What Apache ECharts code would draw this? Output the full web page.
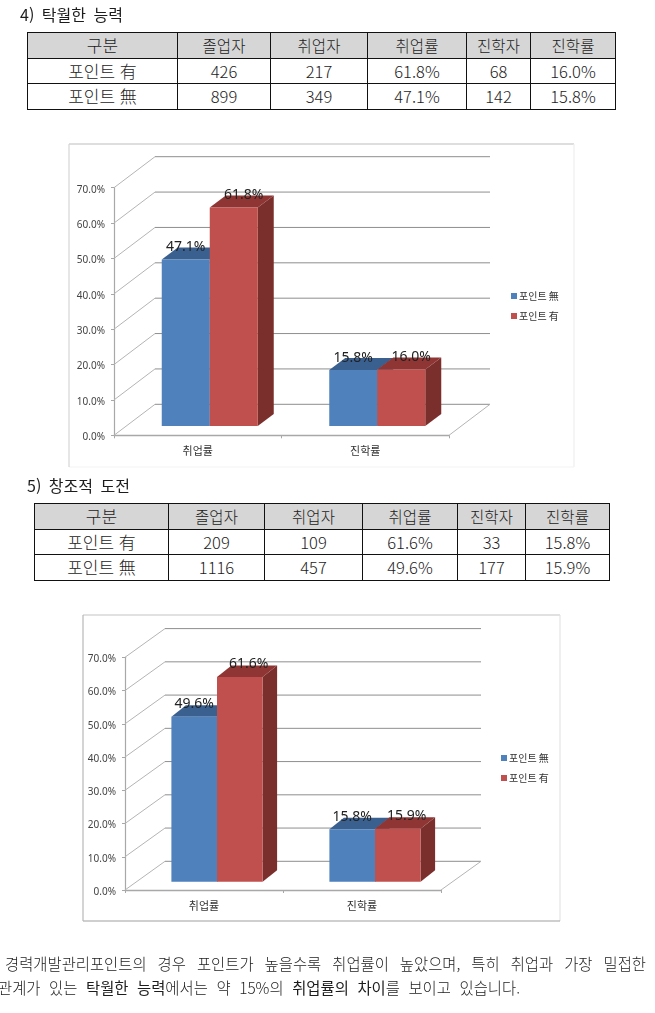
<!DOCTYPE html>
<html lang="ko">
<head>
<meta charset="utf-8">
<script src="https://cdn.jsdelivr.net/npm/echarts@6/dist/echarts.min.js"></script>
<style>
html,body{margin:0;padding:0;background:#fff;width:655px;height:1013px;overflow:hidden}
body{font-family:"Noto Sans CJK KR","Noto Sans",sans-serif;color:#1c1c1c}
#chart{position:absolute;left:0;top:0;width:655px;height:1013px}
.h{position:absolute;font-size:16px;line-height:18px;white-space:pre;font-weight:400;word-spacing:3px}
table{position:absolute;border-collapse:collapse;table-layout:fixed;font-size:16.5px;font-weight:300;background:#fff}
td{border:1px solid #111;text-align:center;padding:0;height:24.5px;line-height:20px;overflow:hidden}
td:first-child{font-size:17px}
tr:first-child td{background:#d6d6d6;font-size:15.5px}
tr:first-child td:first-child{font-size:17px}
.p{position:absolute;font-size:15.4px;line-height:20px;white-space:nowrap;font-weight:300}
.j{text-align:justify;text-align-last:justify;white-space:normal}
.p b{font-weight:400}
</style>
</head>
<body>
<div id="chart"></div>
<div class="h" style="left:20px;top:5px">4) 탁월한 능력</div>
<table id="t1" style="left:27px;top:32px;width:588px"></table>
<div class="h" style="left:27px;top:476px">5) 창조적 도전</div>
<table id="t2" style="left:34px;top:503px;width:575px"></table>
<div class="p j" style="left:5px;top:953px;width:641px">경력개발관리포인트의 경우 포인트가 높을수록 취업률이 높았으며, 특히 취업과 가장 밀접한</div>
<div class="p j" style="left:-2px;top:977px;width:522px">관계가 있는 <b>탁월한 능력</b>에서는 약 15%의 <b>취업률의 차이</b>를 보이고 있습니다.</div>
<script>
// ---- data ----
const categories = ['취업률', '진학률'];
const seriesNames = ['포인트 無', '포인트 有'];
const yTicks = [0, 10, 20, 30, 40, 50, 60, 70];

const chart1NoPoint = [47.1, 15.8];
const chart1Point = [61.8, 16.0];
const chart2NoPoint = [49.6, 15.8];
const chart2Point = [61.6, 15.9];

const tableHeader = ['구분', '졸업자', '취업자', '취업률', '진학자', '진학률'];
const table1Row1 = ['포인트 有', '426', '217', '61.8%', '68', '16.0%'];
const table1Row2 = ['포인트 無', '899', '349', '47.1%', '142', '15.8%'];
const table2Row1 = ['포인트 有', '209', '109', '61.6%', '33', '15.8%'];
const table2Row2 = ['포인트 無', '1116', '457', '49.6%', '177', '15.9%'];

// ---- tables ----
function buildTable(id, widths, rows) {
  const t = document.getElementById(id);
  t.innerHTML = '<colgroup>' + widths.map(w => '<col style="width:' + w + 'px">').join('') + '</colgroup>' +
    rows.map(r => '<tr>' + r.map(c => '<td>' + c + '</td>').join('') + '</tr>').join('');
}
buildTable('t1', [150, 93, 97, 99, 64, 85], [tableHeader, table1Row1, table1Row2]);
buildTable('t2', [134, 96, 98, 95, 68, 84], [tableHeader, table2Row1, table2Row2]);

// ---- chart layout ----
const layouts = [
  { left: 114, top: 187.7, width: 335, height: 247.6, wallDx: 41, wallDy: -31,
    lift: 9.3, shift: 12, barW: 48, depthX: 16, depthY: -12,
    labelDx: [0, 10], labelDy: -12.5, legendLeft: 506, legendTop: 286,
    frame: [69, 144, 505, 323], edges: ['#bdbdbd', '#efefef', '#f4f4f4', '#d6d6d6'] },
  { left: 125, top: 657.3, width: 316, height: 232.7, wallDx: 40, wallDy: -28.7,
    lift: 8.3, shift: 13, barW: 45.6, depthX: 14.5, depthY: -11.5,
    labelDx: [0, 9], labelDy: -12.5, legendLeft: 496, legendTop: 748,
    frame: [83, 615, 477, 306], edges: ['#c4c4c4', '#e4e4e4', '#a0a0a0', '#b8b8b8'] }
];
const seriesData = [[chart1NoPoint, chart1Point], [chart2NoPoint, chart2Point]];
const fills = [
  { front: '#4f81bd', top: '#3a6090', side: '#34577f' },
  { front: '#c0504d', top: '#8f3634', side: '#7b2f2d' }
];

function wallSeries(idx) {
  const L = layouts[idx];
  return {
    type: 'custom', xAxisIndex: idx, yAxisIndex: idx, silent: true, clip: false, z: 1,
    encode: { x: 0, y: 1 },
    data: yTicks.map(v => [0, v]),
    renderItem(params, api) {
      const y = api.coord([0, api.value(1)])[1];
      const x0 = L.left, x1 = L.left + L.width;
      const bx = x0 + L.wallDx, by = y + L.wallDy, ex = x1 + L.wallDx;
      const children = [
        { type: 'line', shape: { x1: x0, y1: y, x2: bx, y2: by }, style: { stroke: '#b4b4b4', lineWidth: 1 } },
        { type: 'line', shape: { x1: bx, y1: by, x2: ex, y2: by }, style: { stroke: '#8e8e8e', lineWidth: 1 } }
      ];
      if (api.value(1) === 0) {
        children.push({ type: 'line', shape: { x1: x1, y1: y, x2: ex, y2: by }, style: { stroke: '#b4b4b4', lineWidth: 1 } });
      }
      return { type: 'group', children };
    }
  };
}

function barSeries(idx, s) {
  const L = layouts[idx], c = fills[s];
  return {
    type: 'custom', name: seriesNames[s], xAxisIndex: idx, yAxisIndex: idx, clip: false, z: 2 + s,
    itemStyle: { color: c.front },
    encode: { x: 0, y: 1 },
    data: seriesData[idx][s].map((v, i) => [i, v]),
    renderItem(params, api) {
      const cat = api.value(0), val = api.value(1);
      const top = api.coord([cat, val]), base = api.coord([cat, 0]);
      const x0 = top[0] + L.shift + (s === 0 ? -L.barW : 0), x1 = x0 + L.barW;
      const yT = top[1] - L.lift, yB = base[1] - L.lift;
      const dx = L.depthX, dy = L.depthY;
      return {
        type: 'group',
        children: [
          { type: 'polygon', shape: { points: [[x1, yT], [x1 + dx, yT + dy], [x1 + dx, yB + dy], [x1, yB]] }, style: { fill: c.side } },
          { type: 'polygon', shape: { points: [[x0, yT], [x0 + dx, yT + dy], [x1 + dx, yT + dy], [x1, yT]] }, style: { fill: c.top } },
          { type: 'rect', shape: { x: x0, y: yT, width: L.barW, height: yB - yT }, style: { fill: c.front } },
          { type: 'text', z2: 50, style: {
              x: (x0 + x1) / 2 + L.labelDx[s], y: yT + L.labelDy,
              text: val.toFixed(1) + '%', textAlign: 'center', textVerticalAlign: 'middle',
              fill: '#222', font: '14px "Noto Sans"' } }
        ]
      };
    }
  };
}

function frameLines(L) {
  const [x, y, w, h] = L.frame;
  const segs = [[x, y, x + w, y], [x + w, y, x + w, y + h], [x, y + h, x + w, y + h], [x, y, x, y + h]];
  return segs.map((s, i) => ({
    type: 'line', silent: true, z: -10,
    shape: { x1: s[0], y1: s[1], x2: s[2], y2: s[3] },
    style: { stroke: L.edges[i], lineWidth: 1.2 }
  }));
}

const axisLineGrey = { lineStyle: { color: '#a8a8a8', width: 1.4 } };
const option = {
  animation: false,
  backgroundColor: 'transparent',
  graphic: layouts.flatMap(frameLines),
  grid: layouts.map(L => ({ left: L.left, top: L.top, width: L.width, height: L.height, outerBoundsMode: 'none' })),
  xAxis: layouts.map((L, i) => ({
    type: 'category', gridIndex: i, data: categories,
    axisLine: axisLineGrey, axisTick: { show: true, length: 3, lineStyle: { color: '#a8a8a8' } },
    axisLabel: { fontSize: 11, color: '#333', margin: 10, fontFamily: 'Noto Sans CJK KR' }
  })),
  yAxis: layouts.map((L, i) => ({
    type: 'value', gridIndex: i, min: 0, max: 70, interval: 10,
    axisLine: { show: true, lineStyle: { color: '#a8a8a8', width: 1.2 } },
    axisTick: { show: true, length: 3, lineStyle: { color: '#a8a8a8' } },
    splitLine: { show: false },
    axisLabel: { fontSize: 10, color: '#444', margin: 9, verticalAlign: 'top', lineHeight: 4, fontFamily: 'Noto Sans', formatter: v => v.toFixed(1) + '%' }
  })),
  legend: layouts.map(L => ({
    orient: 'vertical', left: L.legendLeft, top: L.legendTop, icon: 'rect',
    itemWidth: 6, itemHeight: 6, itemGap: 10, selectedMode: false,
    data: seriesNames,
    textStyle: { fontSize: 10, color: '#333', padding: [0, 0, 0, -3], fontFamily: 'Noto Sans CJK KR' }
  })),
  series: [wallSeries(0), barSeries(0, 0), barSeries(0, 1), wallSeries(1), barSeries(1, 0), barSeries(1, 1)]
};
echarts.init(document.getElementById('chart')).setOption(option);
</script>
</body>
</html>
